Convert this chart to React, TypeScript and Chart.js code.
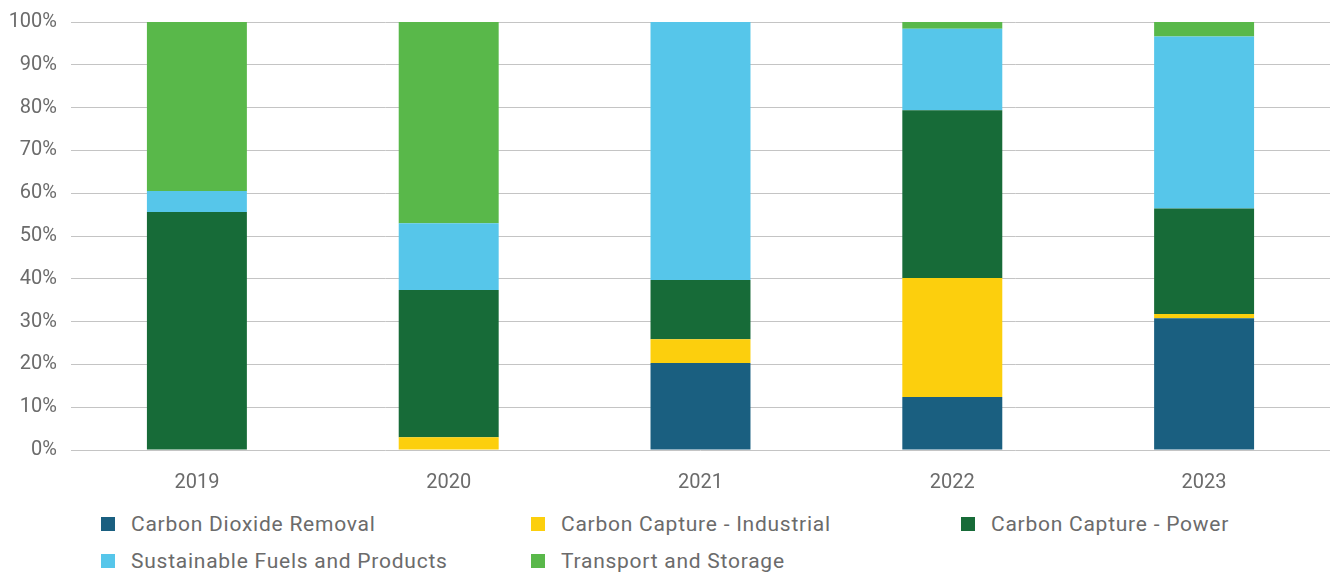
import React, { useEffect, useRef } from "react";
import { Chart, registerables } from "chart.js";

Chart.register(...registerables);

const years = ["2019", "2020", "2021", "2022", "2023"];
const seriesNames = [
  "Carbon Dioxide Removal",
  "Carbon Capture - Industrial",
  "Carbon Capture - Power",
  "Sustainable Fuels and Products",
  "Transport and Storage",
];
const carbonDioxideRemoval = [0, 0, 20.3, 12.4, 30.8];
const carbonCaptureIndustrial = [0, 3.0, 5.6, 27.8, 1.0];
const carbonCapturePower = [55.6, 34.4, 13.8, 39.2, 24.6];
const sustainableFuels = [4.9, 15.6, 60.3, 19.0, 40.2];
const transportStorage = [39.5, 47.0, 0, 1.6, 3.4];
const yTicks = [0, 10, 20, 30, 40, 50, 60, 70, 80, 90, 100];

const colors = ["#1a5f80", "#fccf0d", "#176b38", "#56c6ea", "#59b84a"];
const FONT = "Roboto, 'DejaVu Sans', sans-serif";
const TEXT = "#6b6b6b";

export default function App() {
  const ref = useRef<HTMLCanvasElement | null>(null);

  useEffect(() => {
    document.body.style.margin = "0";
    const values = [
      carbonDioxideRemoval,
      carbonCaptureIndustrial,
      carbonCapturePower,
      sustainableFuels,
      transportStorage,
    ];
    const chart = new Chart(ref.current as HTMLCanvasElement, {
      type: "bar",
      data: {
        labels: years,
        datasets: seriesNames.map((name, i) => ({
          label: name,
          data: values[i],
          backgroundColor: colors[i],
          borderWidth: 0,
          categoryPercentage: 1,
          barPercentage: 0.397,
        })),
      },
      options: {
        responsive: false,
        animation: false,
        layout: { padding: { left: 0, right: 4, top: 22, bottom: 0 } },
        plugins: { legend: { display: false }, tooltip: { enabled: false } },
        scales: {
          x: {
            stacked: true,
            grid: { display: false },
            border: { display: false },
            ticks: { color: TEXT, font: { family: FONT, size: 20 }, padding: 13 },
            afterFit: (s: any) => {
              s.height = 45;
              s.paddingLeft = 0;
              s.paddingRight = 0;
            },
          },
          y: {
            stacked: true,
            min: 0,
            max: 100,
            afterBuildTicks: (s: any) => {
              s.ticks = yTicks.map((v) => ({ value: v }));
            },
            grid: { color: "#c4c4c4", lineWidth: 1, drawTicks: false },
            border: { display: false },
            ticks: {
              color: TEXT,
              font: { family: FONT, size: 20 },
              padding: 14,
              callback: (v: any) => v + "%",
            },
            afterFit: (s: any) => {
              s.width = 71;
              s.paddingTop = 0;
              s.paddingBottom = 0;
            },
          },
        },
      },
    });
    return () => chart.destroy();
  }, []);

  const cols = [101, 531, 961];
  return (
    <div style={{ position: "absolute", left: 0, top: 0, width: 1334, height: 575, background: "#fff" }}>
      <canvas ref={ref} width={1334} height={495} style={{ display: "block" }} />
      {seriesNames.map((name, i) => {
        const row = Math.floor(i / 3);
        const col = i % 3;
        return (
          <div
            key={name}
            style={{
              position: "absolute",
              left: cols[col],
              top: 512 + row * 37,
              height: 24,
              display: "flex",
              alignItems: "center",
              fontFamily: FONT,
              fontSize: 21,
              color: TEXT,
              whiteSpace: "nowrap",
              letterSpacing: "0.75px",
            }}
          >
            <span style={{ display: "inline-block", width: 14, height: 14, background: colors[i], marginRight: 16 }} />
            {name}
          </div>
        );
      })}
    </div>
  );
}
